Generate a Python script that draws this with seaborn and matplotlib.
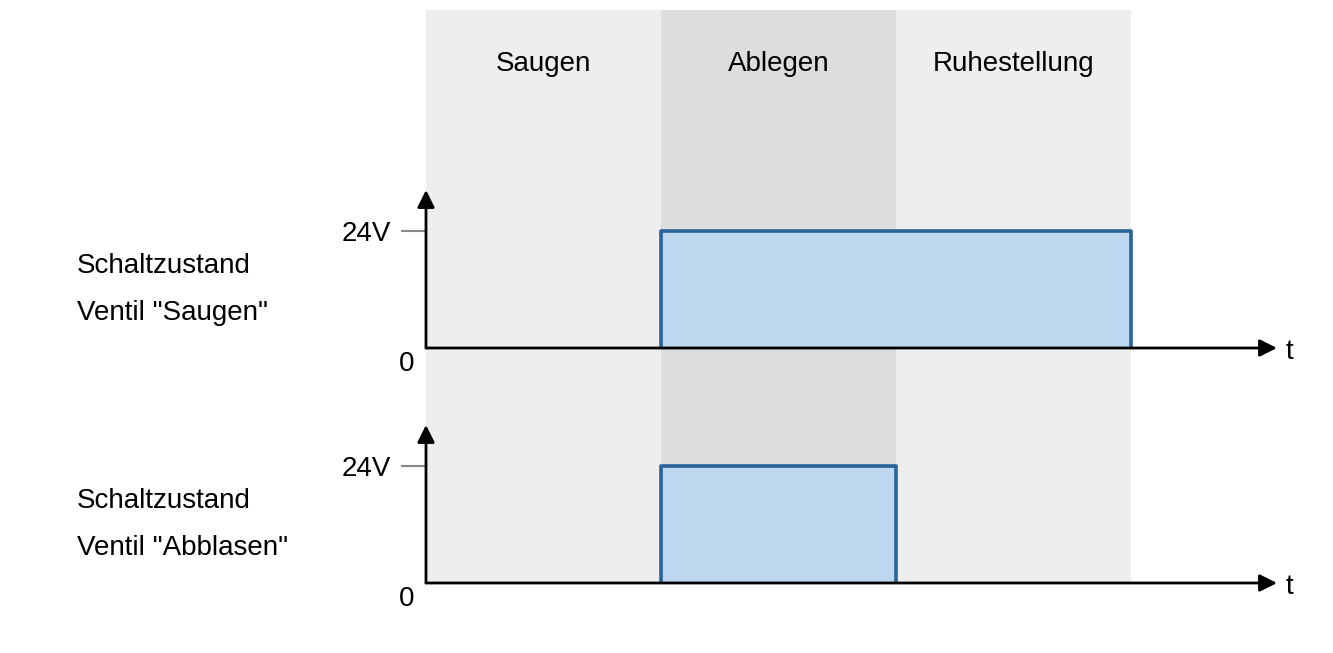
import pandas as pd
import matplotlib.pyplot as plt
import seaborn as sns

# Phasen und Schaltzustände (Zeit in Phaseneinheiten)
phasen = ['Saugen', 'Ablegen', 'Ruhestellung']
phasen_grenzen = [0, 1, 2, 3]
phasen_farben = ['#eeeeee', '#dddddd', '#eeeeee']
zustand_saugen = [0, 24, 24]      # Volt je Phase
zustand_abblasen = [0, 24, 0]     # Volt je Phase
signal_namen = ['Schaltzustand\nVentil "Saugen"', 'Schaltzustand\nVentil "Abblasen"']
t_max = 3.62
v_max = 32.4

sns.set_theme(style='white')
plt.rcParams['font.family'] = ['Liberation Sans', 'DejaVu Sans']
plt.rcParams['font.size'] = 20
plt.rcParams['text.color'] = 'black'
plt.rcParams['ytick.labelcolor'] = 'black'

W, H = 1333, 653
fig = plt.figure(figsize=(W / 100, H / 100), dpi=100)
fig.patch.set_facecolor('white')

def px_axes(left, top, right, bottom):
    return fig.add_axes([left / W, 1 - bottom / H, (right - left) / W, (bottom - top) / H])

# Hintergrund mit Phasen
bg = px_axes(426, 10, 1277, 583)
bg.set_xlim(0, t_max)
bg.set_ylim(0, 1)
bg.axis('off')
for i, name in enumerate(phasen):
    bg.axvspan(phasen_grenzen[i], phasen_grenzen[i + 1], color=phasen_farben[i], lw=0)
    bg.text((phasen_grenzen[i] + phasen_grenzen[i + 1]) / 2, 0.906, name,
            ha='center', va='center', fontsize=20, color='black')


def umriss(zustand):
    # Punkte für jeden eingeschalteten Abschnitt
    rows = []
    seg = 0
    i = 0
    while i < len(zustand):
        if zustand[i] > 0:
            j = i
            while j + 1 < len(zustand) and zustand[j + 1] == zustand[i]:
                j += 1
            t0, t1, v = phasen_grenzen[i], phasen_grenzen[j + 1], zustand[i]
            for t, y in [(t0, 0), (t0, v), (t1, v), (t1, 0)]:
                rows.append({'t': t, 'v': y, 'seg': seg})
            seg += 1
            i = j + 1
        else:
            i += 1
    return pd.DataFrame(rows)


achsen = [px_axes(426, 190, 1277, 348), px_axes(426, 425, 1277, 583)]
for ax, zustand in zip(achsen, [zustand_saugen, zustand_abblasen]):
    ax.set_facecolor('none')
    ax.set_xlim(0, t_max)
    ax.set_ylim(0, v_max)
    df = umriss(zustand)
    for s, part in df.groupby('seg'):
        ax.fill_between(part['t'], part['v'], 0, color='#bdd7ee', lw=0, zorder=2)
    sns.lineplot(data=df, x='t', y='v', units='seg', estimator=None, sort=False,
                 color='#2a6397', lw=2.6, ax=ax, zorder=3, legend=False)
    for sp in ax.spines.values():
        sp.set_visible(False)
    ax.set_xticks([])
    ax.set_yticks([24])
    ax.set_yticklabels(['24V'])
    ax.tick_params(axis='y', length=18, width=1.5, color='#888888', pad=7,
                   labelsize=20, left=True, labelcolor='black')
    ax.set_xlabel('')
    ax.set_ylabel('')
    arrow = dict(arrowstyle='-|>', color='black', lw=2, shrinkA=0, shrinkB=0,
                 mutation_scale=26)
    ax.annotate('', xy=(1, 0), xytext=(0, 0), xycoords='axes fraction',
                textcoords='axes fraction', arrowprops=arrow, zorder=4)
    ax.annotate('', xy=(0, 1), xytext=(0, 0), xycoords='axes fraction',
                textcoords='axes fraction', arrowprops=arrow, zorder=4)
    ax.annotate('0', xy=(0, 0), xycoords='axes fraction', xytext=(-19, -16),
                textcoords='offset pixels', ha='center', va='center', fontsize=20)
    ax.annotate('t', xy=(1, 0), xycoords='axes fraction', xytext=(9, -4),
                textcoords='offset pixels', ha='left', va='center', fontsize=20)

# Beschriftung links
for name, y0 in zip(signal_namen, [266, 501]):
    zeilen = name.split('\n')
    fig.text(77 / W, 1 - y0 / H, zeilen[0], ha='left', va='center', fontsize=20)
    fig.text(77 / W, 1 - (y0 + 47) / H, zeilen[1], ha='left', va='center', fontsize=20)

fig.savefig('out.png', dpi=100)
